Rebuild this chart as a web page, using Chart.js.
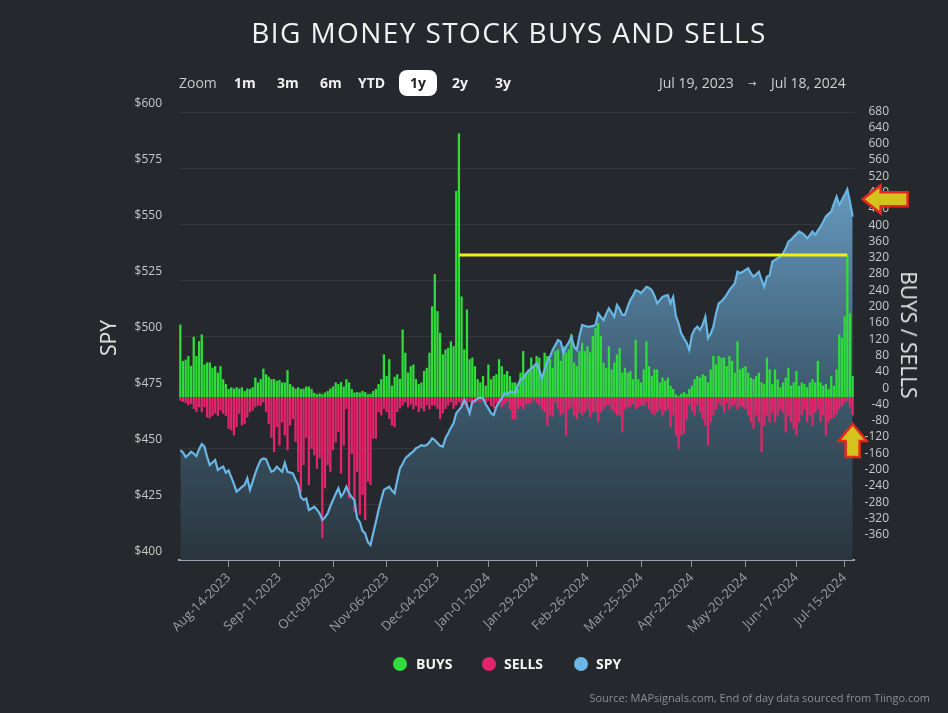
<!DOCTYPE html>
<html>
<head>
<meta charset="utf-8">
<title>Big Money Stock Buys and Sells</title>
<script src="https://cdn.jsdelivr.net/npm/chart.js@4.4.1/dist/chart.umd.min.js"></script>
<style>
  body { margin: 0; background: #25282c; }
  #wrap { position: relative; width: 948px; height: 713px; background: #25282c; overflow: hidden;
          font-family: 'Open Sans', 'DejaVu Sans', sans-serif; color: #ddd; }
  #chart { position: absolute; left: 0; top: 0; }
  .abs { position: absolute; white-space: nowrap; }
  #title { left: 509px; top: 12px; transform: translateX(-50%); font-size: 28px; line-height: 40px;
           letter-spacing: 1.4px; color: #f2f2f2; font-weight: 400; }
  .zm { top: 73px; font-size: 14px; line-height: 20px; color: #f0f0f0; font-weight: 700; }
  .zm.lbl { color: #c8c8c8; font-weight: 400; }
  #btn1y { left: 399px; top: 70px; width: 38px; height: 26px; border-radius: 8px; background: #fff; }
  .zm.on { color: #222; }
  .rng { top: 73px; font-size: 14px; line-height: 20px; color: #d0d0d0; }
  .axt { font-size: 21px; line-height: 24px; color: #e6e6e6; font-weight: 400; }
  .leg { top: 655px; font-size: 14px; line-height: 18px; font-weight: 700; color: #f4f4f4; }
  .dot { top: 657px; width: 14px; height: 14px; border-radius: 50%; }
  #src { right: 18px; top: 690px; font-size: 11px; line-height: 16px; color: #8c8f93; }
</style>
</head>
<body>
<div id="wrap">
  <canvas id="chart" width="948" height="713"></canvas>
  <div id="title" class="abs">BIG MONEY STOCK BUYS AND SELLS</div>

  <div class="abs zm lbl" style="left:179px">Zoom</div>
  <div class="abs zm" style="left:234px">1m</div>
  <div class="abs zm" style="left:277px">3m</div>
  <div class="abs zm" style="left:320px">6m</div>
  <div class="abs zm" style="left:358px">YTD</div>
  <div id="btn1y" class="abs"></div>
  <div class="abs zm on" style="left:410px">1y</div>
  <div class="abs zm" style="left:452px">2y</div>
  <div class="abs zm" style="left:495px">3y</div>
  <div class="abs rng" style="left:659px">Jul 19, 2023</div>
  <div class="abs rng" style="left:748px; font-size:10px">&rarr;</div>
  <div class="abs rng" style="left:771px">Jul 18, 2024</div>

  <div class="abs axt" style="left:108px; top:338px; transform: translate(-50%,-50%) rotate(-90deg)">SPY</div>
  <div class="abs axt" style="left:909px; top:335px; transform: translate(-50%,-50%) rotate(90deg)">BUYS / SELLS</div>

  <div class="abs dot" style="left:393px; background:#2fdc3c"></div>
  <div class="abs leg" style="left:416px">BUYS</div>
  <div class="abs dot" style="left:482px; background:#e2266a"></div>
  <div class="abs leg" style="left:504px">SELLS</div>
  <div class="abs dot" style="left:574px; background:#6ab6e4"></div>
  <div class="abs leg" style="left:596px">SPY</div>

  <div id="src" class="abs">Source: MAPsignals.com, End of day data sourced from Tiingo.com</div>
</div>

<script>
// Trading calendar
const FIRST_DAY = '2023-07-19';
const LAST_DAY = '2024-07-18';
const HOLIDAYS = ['2023-09-04', '2023-11-23', '2023-12-25', '2024-01-01', '2024-01-15',
                  '2024-02-19', '2024-03-29', '2024-05-27', '2024-06-19', '2024-07-04'];
const TICK_DATES = ['2023-08-14', '2023-09-11', '2023-10-09', '2023-11-06', '2023-12-04',
                    '2024-01-01', '2024-01-29', '2024-02-26', '2024-03-25', '2024-04-22',
                    '2024-05-20', '2024-06-17', '2024-07-15'];
const MONTHS = ['Jan', 'Feb', 'Mar', 'Apr', 'May', 'Jun', 'Jul', 'Aug', 'Sep', 'Oct', 'Nov', 'Dec'];

// SPY close, one per trading day
const SPY = [
  449.1, 448, 446, 447, 448.3, 447.5, 446.4, 449.5, 451.8, 450.6,
  446, 442.4, 443.5, 444.6, 440.2, 441, 441.7, 439, 440, 437,
  434, 430.5, 431.5, 432.7, 433.5, 436.5, 431.3, 435, 438.8, 442,
  444.6, 445.3, 445, 442, 439.4, 440, 441.7, 440.5, 439.4, 443.4,
  439.4, 439, 438.7, 436, 433.5, 428, 426.8, 427.5, 422.3, 423,
  423.8, 422.5, 420.8, 417.9, 419, 420.8, 424, 426.8, 429.5, 432,
  428.3, 430, 432.7, 429.8, 428, 426.8, 418.6, 417, 413, 411.9,
  408, 406.7, 411.9, 417, 422.3, 427, 431.3, 432, 432.7, 431,
  429.8, 435.7, 440.9, 443, 445.4, 446.5, 447.6, 448.5, 449.9, 450.5,
  451.3, 451, 451.3, 452.5, 454.3, 453.5, 452.2, 451, 450.6, 454.5,
  456.6, 459, 461, 465.5, 467, 468.4, 471.4, 469, 465.5, 470.7,
  471, 472.2, 472.5, 472.2, 469.5, 467.7, 465.5, 464.7, 468.4, 470.5,
  472.2, 474.4, 474, 475, 475.1, 474.4, 478, 480.5, 481, 483,
  484.5, 485.6, 486.5, 487.8, 485, 481.1, 485, 488.5, 490.8, 493.8,
  496, 498.2, 497.5, 492.3, 495.2, 497, 499.7, 495.2, 493.8, 500,
  504.9, 504.5, 504.2, 504.2, 504.5, 504.9, 510.1, 508.5, 507.1, 510,
  512.4, 510.5, 508.6, 513.8, 512, 509.4, 509.4, 513, 516.1, 518,
  520.5, 520, 519.1, 520.5, 522, 521.5, 520.5, 518, 514.6, 516,
  517.5, 518, 518.3, 514.6, 517.5, 509, 505.7, 501.2, 499, 497,
  493.8, 500.4, 503, 504.2, 502.7, 505, 508.6, 499, 501, 504.2,
  510, 514.6, 515.5, 516.8, 518.5, 520.5, 522, 523.5, 528.7, 528,
  528.7, 529.5, 530.2, 528, 526.5, 527.5, 528.7, 525, 522, 526.5,
  527, 533.2, 534, 534.7, 535.5, 536.9, 539, 542.1, 543, 544.3,
  545.5, 546.6, 546, 545.1, 543.6, 545, 546.6, 545.1, 547, 548.8,
  551, 553.3, 554.5, 555.5, 559, 562.2, 558.5, 560.7, 563, 565.5,
  560, 553.3
];

// Big money buys per day
const BUYS = [
  178, 89, 92, 101, 77, 148, 101, 137, 154, 80,
  85, 85, 72, 76, 60, 76, 44, 32, 20, 24,
  21, 24, 21, 24, 15, 21, 20, 24, 48, 36,
  44, 70, 56, 50, 44, 44, 40, 42, 36, 36,
  66, 32, 26, 21, 24, 20, 21, 26, 26, 20,
  10, 7, 9, 7, 11, 15, 21, 26, 36, 32,
  37, 26, 44, 36, 20, 11, 12, 11, 15, 12,
  7, 8, 15, 20, 32, 44, 105, 52, 93, 28,
  50, 56, 45, 166, 109, 60, 76, 80, 44, 32,
  36, 64, 72, 109, 223, 302, 211, 158, 105, 117,
  121, 137, 125, 506, 648, 247, 117, 215, 93, 97,
  76, 44, 36, 52, 28, 80, 44, 52, 56, 93,
  76, 56, 64, 52, 36, 36, 20, 60, 113, 60,
  68, 97, 76, 101, 97, 52, 109, 101, 93, 72,
  113, 117, 89, 125, 109, 117, 154, 85, 76, 113,
  133, 113, 125, 110, 150, 170, 182, 150, 85, 72,
  125, 68, 85, 105, 121, 60, 72, 60, 64, 44,
  141, 44, 36, 68, 137, 76, 52, 68, 68, 36,
  48, 40, 48, 28, 20, 7, 3, 8, 12, 8,
  20, 28, 44, 52, 48, 56, 52, 36, 68, 101,
  80, 101, 97, 97, 76, 101, 89, 60, 137, 68,
  72, 76, 60, 48, 44, 52, 60, 36, 32, 97,
  68, 32, 68, 44, 24, 36, 48, 72, 28, 36,
  64, 28, 36, 32, 24, 36, 44, 36, 89, 36,
  28, 32, 20, 52, 28, 68, 154, 146, 198, 349,
  206, 52
];

// Big money sells per day
const SELLS = [
  -9, -12, -15, -20, -17, -29, -37, -25, -37, -25,
  -50, -52, -46, -40, -46, -33, -41, -46, -78, -82,
  -94, -74, -41, -70, -66, -50, -37, -33, -25, -21,
  -21, -13, -37, -66, -100, -135, -74, -119, -62, -94,
  -131, -70, -54, -110, -184, -233, -167, -100, -216, -127,
  -143, -176, -150, -346, -224, -167, -184, -130, -111, -86,
  -188, -119, -29, -249, -140, -281, -184, -289, -240, -302,
  -208, -216, -102, -102, -37, -45, -29, -37, -54, -70,
  -74, -37, -28, -21, -13, -25, -18, -30, -22, -37,
  -28, -35, -20, -30, -21, -21, -29, -54, -40, -29,
  -21, -13, -29, -20, -13, -21, -18, -28, -12, -20,
  -15, -10, -12, -8, -18, -10, -22, -28, -15, -20,
  -25, -18, -12, -30, -54, -54, -30, -22, -30, -18,
  -17, -14, -6, -14, -20, -30, -37, -70, -45, -48,
  -14, -30, -45, -40, -94, -30, -25, -45, -54, -38,
  -45, -38, -30, -50, -38, -37, -62, -38, -30, -22,
  -20, -30, -37, -45, -45, -86, -30, -25, -25, -17,
  -30, -25, -20, -22, -14, -30, -40, -45, -37, -30,
  -45, -35, -30, -74, -45, -94, -127, -94, -90, -55,
  -20, -35, -45, -20, -35, -55, -70, -119, -62, -45,
  -30, -15, -22, -38, -15, -30, -22, -18, -30, -22,
  -25, -30, -45, -62, -78, -45, -62, -135, -70, -45,
  -62, -38, -62, -45, -30, -38, -86, -45, -62, -78,
  -94, -62, -45, -30, -62, -45, -70, -38, -30, -62,
  -45, -94, -62, -54, -50, -42, -30, -22, -13, -9,
  -25, -45
];

// Annotations drawn on the picture
const MARK_LEVEL = 349;
const MARK_DATES = ['2023-12-14', '2024-07-16'];
const ARROW_SPY = 561;
const ARROW_FLOW = -66;

function tradingDays() {
  const out = [];
  const d = new Date(FIRST_DAY + 'T00:00:00Z');
  const end = new Date(LAST_DAY + 'T00:00:00Z');
  while (d <= end) {
    const iso = d.toISOString().slice(0, 10);
    const wd = d.getUTCDay();
    if (wd !== 0 && wd !== 6 && !HOLIDAYS.includes(iso)) out.push(iso);
    d.setUTCDate(d.getUTCDate() + 1);
  }
  return out;
}

function fmtDay(iso) {
  const [y, m, d] = iso.split('-');
  return MONTHS[+m - 1] + '-' + d + '-' + y;
}

const DAYS = tradingDays();
if (DAYS.length !== SPY.length) console.warn('day count', DAYS.length, SPY.length);

const tickMap = new Map();
TICK_DATES.forEach(t => {
  const i = DAYS.findIndex(d => d >= t);
  if (i >= 0) tickMap.set(i, fmtDay(t));
});

const markData = DAYS.map(d => MARK_DATES.includes(d) ? MARK_LEVEL : null);

function areaFill(context) {
  const area = context.chart.chartArea;
  if (!area) return 'rgba(0,0,0,0)';
  const g = context.chart.ctx.createLinearGradient(0, area.top, 0, area.bottom);
  g.addColorStop(0, 'rgb(112,168,206)');
  g.addColorStop(0.2, 'rgb(98,148,184)');
  g.addColorStop(0.62, 'rgb(60,90,110)');
  g.addColorStop(1, 'rgb(42,53,61)');
  return g;
}

function drawArrow(ctx, x, y, dir) {
  // outline points with the tip at 0,0
  const pts = [[0, 0], [18, -14], [18, -7], [45, -7], [45, 7], [18, 7], [18, 14]];
  const upPts = [[0, 0], [14, 17], [7, 17], [7, 33], [-7, 33], [-7, 17], [-14, 17]];
  const use = dir === 'up' ? upPts : pts;
  ctx.save();
  ctx.beginPath();
  use.forEach(([dx, dy], k) => k ? ctx.lineTo(x + dx, y + dy) : ctx.moveTo(x + dx, y + dy));
  ctx.closePath();
  ctx.fillStyle = '#d3c31c';
  ctx.fill();
  ctx.lineWidth = 2.5;
  ctx.lineJoin = 'miter';
  ctx.strokeStyle = '#e5281e';
  ctx.stroke();
  ctx.restore();
}

const arrowPlugin = {
  id: 'arrows',
  afterDatasetsDraw(chart) {
    const { ctx, scales } = chart;
    const xl = scales.x.getPixelForValue(DAYS.length - 1);
    drawArrow(ctx, xl + 10, scales.y.getPixelForValue(ARROW_SPY), 'left');
    drawArrow(ctx, xl, scales.y2.getPixelForValue(ARROW_FLOW), 'up');
  }
};

const FONT = "'Open Sans', 'DejaVu Sans', sans-serif";

new Chart(document.getElementById('chart'), {
  type: 'bar',
  data: {
    labels: DAYS.map(fmtDay),
    datasets: [
      {
        type: 'line', label: 'Mark', data: markData, yAxisID: 'y2',
        borderColor: '#f3ef14', borderWidth: 3, pointRadius: 0, spanGaps: true, order: -1
      },
      {
        type: 'line', label: 'SPY', data: SPY, yAxisID: 'y',
        borderColor: '#6ab6e4', borderWidth: 2.2, pointRadius: 0, tension: 0,
        fill: 'start', backgroundColor: areaFill, order: 0
      },
      {
        label: 'BUYS', data: BUYS, yAxisID: 'y2', backgroundColor: '#2fdc3c',
        grouped: false, barPercentage: 0.85, categoryPercentage: 1, order: 1
      },
      {
        label: 'SELLS', data: SELLS, yAxisID: 'y2', backgroundColor: '#e2266a',
        grouped: false, barPercentage: 0.85, categoryPercentage: 1, order: 2
      }
    ]
  },
  options: {
    responsive: false,
    animation: false,
    devicePixelRatio: 1,
    layout: { padding: { left: 132, right: 59, top: 112, bottom: 53 } },
    plugins: {
      legend: { display: false },
      tooltip: { enabled: false },
      filler: { drawTime: 'beforeDatasetsDraw' }
    },
    scales: {
      x: {
        type: 'category',
        offset: true,
        grid: { display: true, drawOnChartArea: false, drawTicks: true, tickLength: 7, color: '#8d949b', offset: false },
        border: { display: true, color: '#9aa3ab', width: 2 },
        ticks: {
          autoSkip: false, maxRotation: 45, minRotation: 45, padding: 3,
          color: '#9a9ea3', font: { family: FONT, size: 13 },
          callback: v => tickMap.has(v) ? tickMap.get(v) : null
        },
        afterFit: s => { s.height = 100; }
      },
      y: {
        position: 'left', min: 400, max: 600,
        grid: { color: 'rgba(255,255,255,0.07)', drawTicks: false },
        border: { display: false },
        ticks: {
          stepSize: 25, padding: 17, labelOffset: -8, autoSkip: false,
          color: '#c8c8c8', font: { family: FONT, size: 12 },
          callback: v => '$' + v
        },
        afterFit: s => { s.width = 47; }
      },
      y2: {
        position: 'right', min: -400, max: 700,
        grid: { display: false },
        border: { display: false },
        ticks: {
          stepSize: 40, padding: 6, crossAlign: 'far', labelOffset: -9, autoSkip: false,
          includeBounds: false,
          color: '#c8c8c8', font: { family: FONT, size: 12 },
          callback: v => (v < -360 || v > 680) ? '' : v
        },
        afterFit: s => { s.width = 35; }
      }
    }
  },
  plugins: [arrowPlugin]
});
</script>
</body>
</html>
